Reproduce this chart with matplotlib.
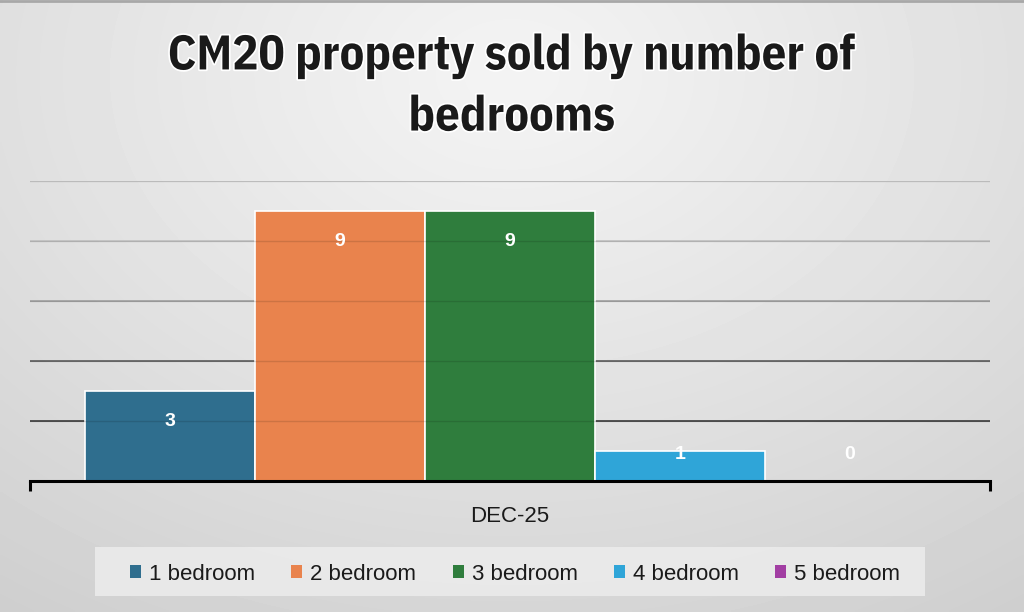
import numpy as np
import matplotlib.pyplot as plt
import matplotlib.patheffects as pe
from matplotlib.patches import Patch, Rectangle

# data
category = 'DEC-25'
series_names = ['1 bedroom', '2 bedroom', '3 bedroom', '4 bedroom', '5 bedroom']
series_values = [3, 9, 9, 1, 0]
series_colors = ['#2f6e8e', '#e9834d', '#2f7d3d', '#2fa5d8', '#a23ea3']
grid_values = [2, 4, 6, 8, 10]
grid_colors = ['#3c3c3c', '#5e5e5e', '#a4a4a4', '#c4c4c4', '#d4d4d4']

W, H = 1024, 612
fig = plt.figure(figsize=(W / 100, H / 100), dpi=100)

# background gradient (lighter at top centre, darker towards the corners)
bg = fig.add_axes([0, 0, 1, 1], zorder=-5)
yy, xx = np.mgrid[0:1:200j, 0:1:300j]
r = np.sqrt(((xx - 0.5) / 0.9) ** 2 + ((yy - 0.12) / 1.1) ** 2)
shade = 0.955 - 0.15 * np.clip(r, 0, 1) ** 1.1
bg.imshow(shade, cmap='gray', vmin=0, vmax=1, aspect='auto', extent=[0, 1, 1, 0],
          interpolation='bilinear')
bg.set_xlim(0, 1)
bg.set_ylim(1, 0)
bg.axis('off')
bg.axhline(0.001, color='#a8a8a8', lw=2)

ax = fig.add_axes([30 / W, 1 - 481 / H, 960 / W, 300 / H])
ax.patch.set_alpha(0)

n = len(series_values)
w = 0.177
offsets = (np.arange(n) - (n - 1) / 2) * w

for gv, gc in zip(grid_values, grid_colors):
    ax.axhline(gv, color=gc, lw=1.2, zorder=0)

bars = ax.bar(offsets, series_values, width=w, color=series_colors,
              edgecolor='white', linewidth=1.2, zorder=2)

# faint gridlines visible over the bars
for gv in grid_values:
    ax.axhline(gv, color='black', lw=1, alpha=0.12, zorder=3)

for b, v in zip(bars, series_values):
    ax.annotate(str(v), (b.get_x() + b.get_width() / 2, max(v - 1, 0.87)),
                ha='center', va='center', color='white', fontsize=14,
                fontweight='bold', family='Liberation Sans', zorder=4)

ax.set_xlim(-0.5, 0.5)
ax.set_ylim(0, 10)
ax.set_yticks([])
ax.set_xticks([-0.5, 0.5])
ax.set_xticklabels(['', ''])
ax.tick_params(axis='x', which='major', length=7, width=2.2, direction='out')
ax.set_xticks([0], [category], minor=True)
ax.tick_params(axis='x', which='minor', length=0, pad=18, labelsize=16,
               labelcolor='#1a1a1a')
for lab in ax.get_xticklabels(minor=True):
    lab.set_family('Liberation Sans')
for s in ['top', 'left', 'right']:
    ax.spines[s].set_visible(False)
ax.spines['bottom'].set_linewidth(2.2)
ax.spines['bottom'].set_zorder(5)

fig.text(0.5, 1 - 87 / H, 'CM20 property sold by number of\nbedrooms',
         ha='center', va='center', fontsize=35, fontweight='bold',
         family='IBM Plex Sans Condensed', color='#1a1a1a', linespacing=1.42,
         path_effects=[pe.withStroke(linewidth=2.5, foreground='white')])

# legend box
fig.patches.append(Rectangle((95 / W, 1 - 596 / H), 830 / W, 49 / H,
                             transform=fig.transFigure, facecolor='#ebebeb',
                             edgecolor='none', alpha=0.9, zorder=1))
handles = [Patch(facecolor=c, label=nm) for c, nm in zip(series_colors, series_names)]
leg = fig.legend(handles=handles, loc='center', bbox_to_anchor=(515 / W, 1 - 574 / H),
                 ncol=5, frameon=False, prop={'family': 'Liberation Sans', 'size': 16},
                 handlelength=0.5, handleheight=0.5, handletextpad=0.35,
                 columnspacing=1.64, labelcolor='#1a1a1a')
leg.set_zorder(2)

fig.savefig('out.png', dpi=100)
